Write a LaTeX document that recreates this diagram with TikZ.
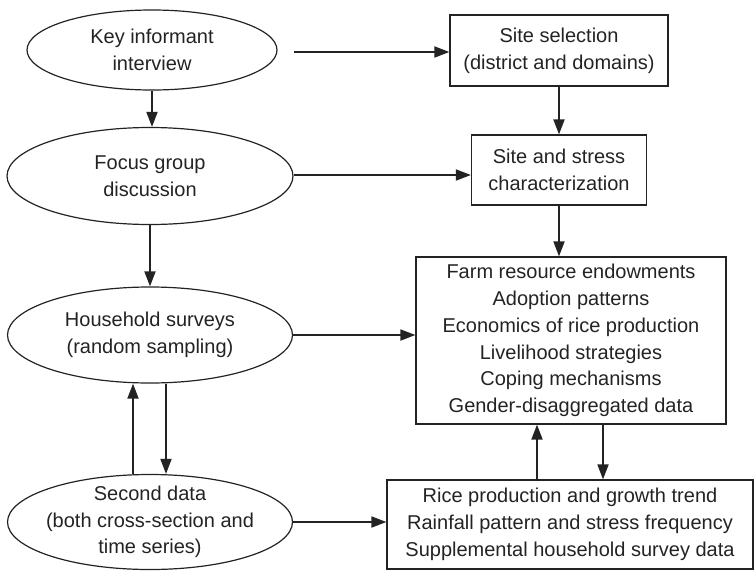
\documentclass[tikz,border=0pt]{standalone}
\usepackage{fontspec}
\setmainfont{Liberation Sans}
\usetikzlibrary{arrows.meta,shapes.geometric,calc}
\definecolor{ink}{RGB}{35,35,35}
\begin{document}
\begin{tikzpicture}[x=1pt,y=-1pt,
  ell/.style={ellipse,draw=ink,line width=1.2pt,inner sep=0pt},
  box/.style={rectangle,draw=ink,line width=1.2pt,inner sep=0pt,align=center,
              font=\fontsize{20}{26.7}\selectfont,text=ink},
  txt/.style={align=center,font=\fontsize{20}{26.7}\selectfont,text=ink,inner sep=0pt},
  arr/.style={-{Triangle[length=15pt,width=11pt]},line width=1.8pt,draw=ink}]
\useasboundingbox (0,0) rectangle (755,571);

% ellipses
\node[ell,minimum width=250pt,minimum height=80pt] (e1) at (152,50) {};
\node[txt] (t1) at (e1) {Key informant\\interview};
\node[ell,minimum width=286pt,minimum height=97pt] (e2) at (150,176) {};
\node[txt] (t2) at (e2) {Focus group\\discussion};
\node[ell,minimum width=285pt,minimum height=96pt] (e3) at (150,335) {};
\node[txt] (t3) at (e3) {Household surveys\\(random sampling)};
\node[ell,minimum width=285pt,minimum height=95pt] (e4) at (150,522) {};
\node[txt] (t4) at (e4) {Second data\\(both cross-section and\\time series)};

% boxes
\node[box,minimum width=218pt,minimum height=71pt] (b1) at (559,50.5)
  {Site selection\\(district and domains)};
\node[box,minimum width=175pt,minimum height=70pt] (b2) at (559,170)
  {Site and stress\\characterization};
\node[box,minimum width=310pt,minimum height=167pt] (b3) at (571,340.5)
  {Farm resource endowments\\Adoption patterns\\Economics of rice production\\Livelihood strategies\\Coping mechanisms\\Gender-disaggregated data};
\node[box,minimum width=366pt,minimum height=89pt] (b4) at (570,524.5)
  {Rice production and growth trend\\Rainfall pattern and stress frequency\\Supplemental household survey data};

% vertical arrows left column
\draw[arr] (e1.south) -- (e1.south |- e2.north);
\draw[arr] (e2.south) -- (e2.south |- e3.north);
\draw[arr] ($(e4.north)+(-17,0)$) -- ($(e3.south)+(-17,0)$);
\draw[arr] ($(e3.south)+(16,0)$) -- ($(e4.north)+(16,0)$);

% vertical arrows right column
\draw[arr] (b1.south) -- (b2.north);
\draw[arr] (b2.south) -- (b2.south |- b3.north);
\draw[arr] ($(b4.north)+(-33,0)$) -- ($(b3.south)+(-34,0)$);
\draw[arr] ($(b3.south)+(32,0)$) -- ($(b4.north)+(33,0)$);

% horizontal arrows
\coordinate (s1) at ($(e2.east |- b1.west)+(0,1.5)$);
\draw[arr] (s1) -- (s1 -| b1.west);
\draw[arr] ($(e2.east)+(0,-1)$) -- ($(e2.east -| b2.west)+(0,-1)$);
\draw[arr] (e3.east) -- (e3.east -| b3.west);
\draw[arr] (e4.east) -- (e4.east -| b4.west);
\end{tikzpicture}
\end{document}
